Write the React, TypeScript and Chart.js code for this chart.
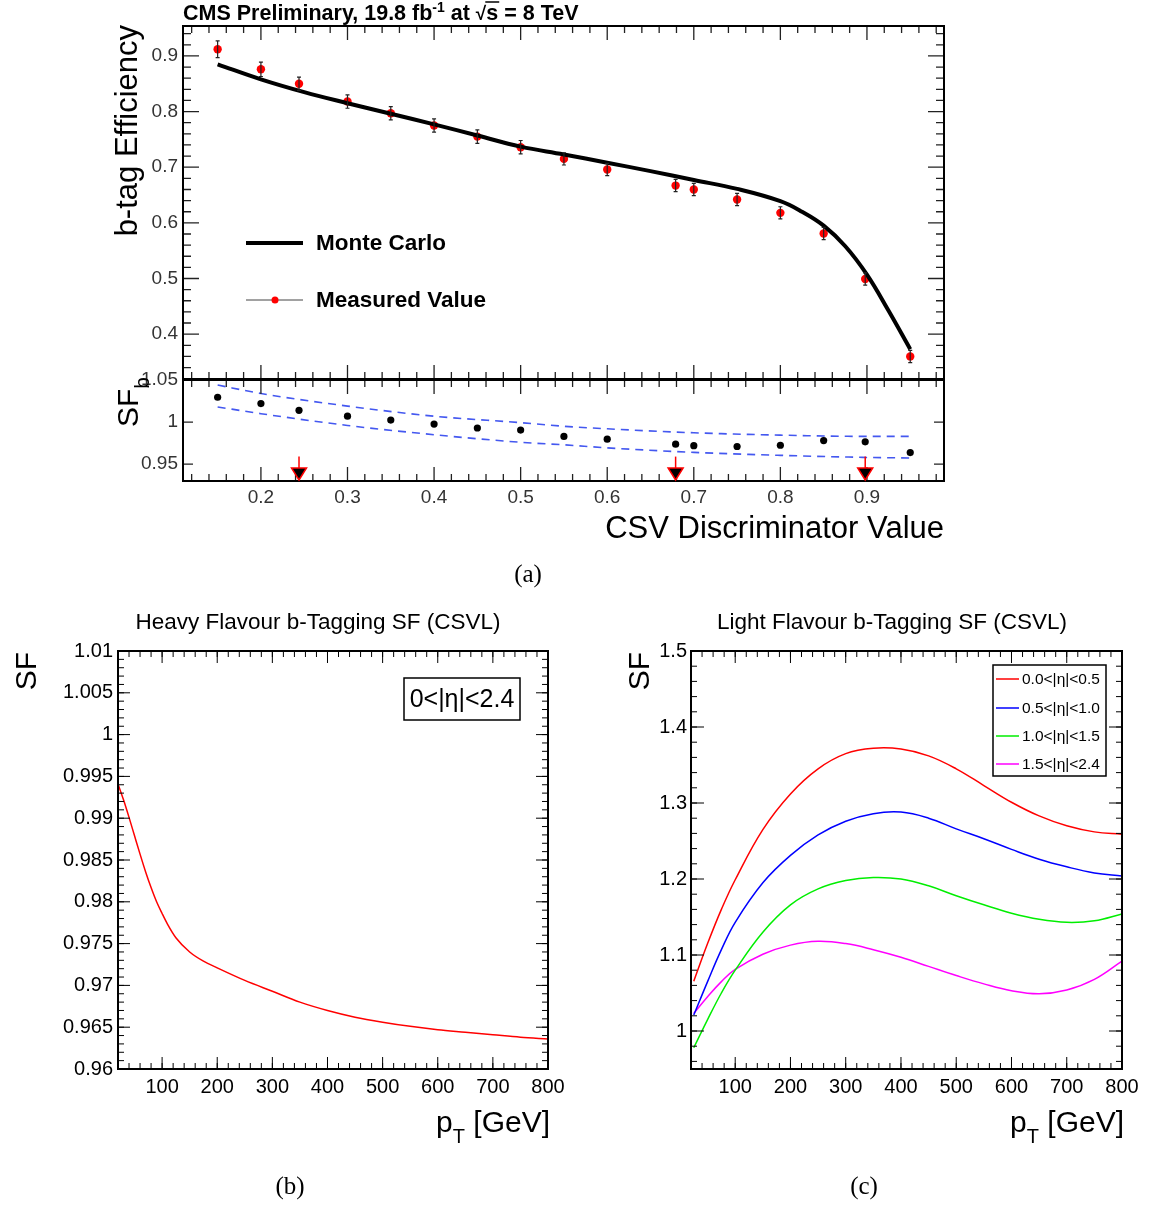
import React, { useEffect, useRef } from "react";
import { Chart, registerables } from "chart.js";

Chart.register(...registerables);

const SANS = "'Liberation Sans', Arial, Helvetica, sans-serif";

// ---------------- Panel (a): b-tag efficiency vs CSV discriminator ----------------
const CSV_X = [0.15, 0.2, 0.244, 0.3, 0.35, 0.4, 0.45, 0.5, 0.55, 0.6, 0.679, 0.7, 0.75, 0.8, 0.85, 0.898, 0.95];
const EFF_MEASURED = [0.912, 0.876, 0.85, 0.818, 0.797, 0.775, 0.755, 0.736, 0.715, 0.696, 0.667, 0.66, 0.642, 0.618, 0.581, 0.499, 0.36];
const EFF_ERR = [0.015, 0.013, 0.012, 0.012, 0.012, 0.012, 0.012, 0.012, 0.011, 0.011, 0.011, 0.011, 0.011, 0.011, 0.011, 0.011, 0.011];
const MC_X = [0.15, 0.2, 0.25, 0.3, 0.35, 0.4, 0.45, 0.5, 0.55, 0.6, 0.65, 0.7, 0.75, 0.8, 0.825, 0.85, 0.875, 0.9, 0.925, 0.95];
const MC_EFF = [0.885, 0.858, 0.835, 0.815, 0.796, 0.777, 0.757, 0.737, 0.723, 0.708, 0.693, 0.677, 0.661, 0.639, 0.62, 0.595, 0.558, 0.507, 0.442, 0.373];
const SF_B = [1.0295, 1.022, 1.014, 1.007, 1.0024, 0.9976, 0.993, 0.9905, 0.983, 0.9797, 0.9737, 0.972, 0.971, 0.9725, 0.978, 0.9766, 0.9638];
const BAND_X = [0.15, 0.2, 0.3, 0.4, 0.5, 0.55, 0.6, 0.7, 0.8, 0.9, 0.95];
const BAND_UP = [1.044, 1.034, 1.019, 1.007, 0.9993, 0.995, 0.992, 0.9873, 0.9845, 0.983, 0.983];
const BAND_LO = [1.018, 1.01, 0.996, 0.985, 0.976, 0.973, 0.9694, 0.964, 0.9605, 0.958, 0.9574];
const WP_X = [0.244, 0.679, 0.898];
const WP_ARROW_TOP = 0.959;
const WP_TRI_TOP = 0.9455;

const A_X_TICKS = [0.2, 0.3, 0.4, 0.5, 0.6, 0.7, 0.8, 0.9];
const A_X_LABELS = ["0.2", "0.3", "0.4", "0.5", "0.6", "0.7", "0.8", "0.9"];
const A_Y_TICKS = [0.4, 0.5, 0.6, 0.7, 0.8, 0.9];
const A_Y_LABELS = ["0.4", "0.5", "0.6", "0.7", "0.8", "0.9"];
const R_Y_TICKS = [0.95, 1.0, 1.05];
const R_Y_LABELS = ["0.95", "1", "1.05"];

// ---------------- Panel (b): heavy flavour SF vs pT ----------------
const PT_B = [20, 30, 40, 50, 60, 70, 80, 90, 100, 110, 125, 150, 175, 200, 250, 300, 350, 400, 450, 500, 550, 600, 650, 700, 750, 800];
const SF_HEAVY = [0.9941, 0.9922, 0.9901, 0.9879, 0.9857, 0.9836, 0.9817, 0.98, 0.9786, 0.9773, 0.9757, 0.974, 0.9729, 0.9721, 0.9706, 0.9693, 0.968, 0.967, 0.9662, 0.9656, 0.9651, 0.9647, 0.9644, 0.9641, 0.9638, 0.9636];

// ---------------- Panel (c): light flavour SF vs pT ----------------
const PT_C = [25, 50, 75, 100, 150, 200, 250, 300, 350, 400, 450, 500, 550, 600, 650, 700, 750, 800];
const SF_ETA_00_05 = [1.0655, 1.115, 1.16, 1.199, 1.265, 1.312, 1.345, 1.365, 1.372, 1.371, 1.362, 1.345, 1.323, 1.301, 1.283, 1.27, 1.262, 1.259];
const SF_ETA_05_10 = [1.021, 1.065, 1.107, 1.143, 1.195, 1.231, 1.258, 1.276, 1.286, 1.288, 1.28, 1.266, 1.253, 1.239, 1.226, 1.216, 1.208, 1.204];
const SF_ETA_10_15 = [0.978, 1.015, 1.05, 1.08, 1.13, 1.166, 1.187, 1.198, 1.202, 1.2, 1.191, 1.178, 1.166, 1.155, 1.147, 1.143, 1.145, 1.154];
const SF_ETA_15_24 = [1.023, 1.045, 1.065, 1.081, 1.101, 1.113, 1.118, 1.115, 1.107, 1.097, 1.085, 1.073, 1.062, 1.053, 1.049, 1.054, 1.068, 1.092];
const C_SERIES_LABELS = ["0.0<|η|<0.5", "0.5<|η|<1.0", "1.0<|η|<1.5", "1.5<|η|<2.4"];
const C_SERIES_COLORS = ["#ff0000", "#0000ff", "#00ee00", "#ff00ff"];

const PT_TICKS = [100, 200, 300, 400, 500, 600, 700, 800];
const PT_LABELS = ["100", "200", "300", "400", "500", "600", "700", "800"];
const B_Y_TICKS = [0.96, 0.965, 0.97, 0.975, 0.98, 0.985, 0.99, 0.995, 1.0, 1.005, 1.01];
const B_Y_LABELS = ["0.96", "0.965", "0.97", "0.975", "0.98", "0.985", "0.99", "0.995", "1", "1.005", "1.01"];
const C_Y_TICKS = [1.0, 1.1, 1.2, 1.3, 1.4, 1.5];
const C_Y_LABELS = ["1", "1.1", "1.2", "1.3", "1.4", "1.5"];

// ---------------- helpers ----------------
function steps(from: number, to: number, step: number): number[] {
  const out: number[] = [];
  const n = Math.round((to - from) / step);
  for (let i = 0; i <= n; i++) out.push(+(from + i * step).toFixed(6));
  return out;
}
const pts = (xs: number[], ys: number[]) => xs.map((x, i) => ({ x, y: ys[i] }));

type Seg = { t: string; font: string; dy?: number; overline?: boolean };
function drawRich(ctx: CanvasRenderingContext2D, segs: Seg[], x: number, y: number, align: "left" | "right" | "center", color = "#000") {
  let total = 0;
  for (const s of segs) {
    ctx.font = s.font;
    total += ctx.measureText(s.t).width;
  }
  let cx = align === "left" ? x : align === "right" ? x - total : x - total / 2;
  ctx.fillStyle = color;
  ctx.strokeStyle = color;
  ctx.textAlign = "left";
  ctx.textBaseline = "alphabetic";
  for (const s of segs) {
    ctx.font = s.font;
    const w = ctx.measureText(s.t).width;
    ctx.fillText(s.t, cx, y + (s.dy || 0));
    if (s.overline) {
      ctx.lineWidth = 1.5;
      ctx.beginPath();
      ctx.moveTo(cx - 1, y + (s.dy || 0) - 18);
      ctx.lineTo(cx + w + 1, y + (s.dy || 0) - 18);
      ctx.stroke();
    }
    cx += w;
  }
}

type Frame = {
  xMajor: number[]; xMinor: number[]; yMajor: number[]; yMinor: number[];
  xMajLen: number; xMinLen: number; yMajLen: number; yMinLen: number;
  tickColor: string; tickWidth: number; frameWidth: number;
};

function framePlugin(f: Frame, extra?: (chart: any) => void) {
  return {
    id: "rootFrame",
    afterDatasetsDraw(chart: any) {
      const { ctx, chartArea: ca, scales } = chart;
      const xs = scales.x, ys = scales.y;
      ctx.save();
      ctx.strokeStyle = f.tickColor;
      ctx.lineWidth = f.tickWidth;
      ctx.beginPath();
      const xMarks = (vals: number[], len: number) => {
        for (const v of vals) {
          const p = xs.getPixelForValue(v);
          if (p < ca.left + 1 || p > ca.right - 1) continue;
          ctx.moveTo(p, ca.bottom); ctx.lineTo(p, ca.bottom - len);
          ctx.moveTo(p, ca.top); ctx.lineTo(p, ca.top + len);
        }
      };
      const yMarks = (vals: number[], len: number) => {
        for (const v of vals) {
          const p = ys.getPixelForValue(v);
          if (p < ca.top + 1 || p > ca.bottom - 1) continue;
          ctx.moveTo(ca.left, p); ctx.lineTo(ca.left + len, p);
          ctx.moveTo(ca.right, p); ctx.lineTo(ca.right - len, p);
        }
      };
      xMarks(f.xMajor, f.xMajLen);
      xMarks(f.xMinor, f.xMinLen);
      yMarks(f.yMajor, f.yMajLen);
      yMarks(f.yMinor, f.yMinLen);
      ctx.stroke();
      ctx.lineWidth = f.frameWidth;
      ctx.strokeStyle = "#000";
      ctx.strokeRect(ca.left, ca.top, ca.right - ca.left, ca.bottom - ca.top);
      ctx.restore();
      if (extra) {
        ctx.save();
        extra(chart);
        ctx.restore();
      }
    },
  };
}

function xAxis(min: number, max: number, ticks: number[], labels: string[], height: number, size: number, color: string, pad: number, display = true) {
  return {
    type: "linear", min, max, display,
    grid: { display: false, drawTicks: false },
    border: { display: false },
    ticks: {
      font: { family: SANS, size }, color, padding: pad, autoSkip: false, maxRotation: 0, minRotation: 0,
      callback: (_v: any, i: number) => labels[i],
    },
    afterBuildTicks: (s: any) => { s.ticks = ticks.map((v) => ({ value: v })); },
    afterFit: (s: any) => { s.height = height; s.paddingLeft = 0; s.paddingRight = 0; },
  };
}
function yAxis(min: number, max: number, ticks: number[], labels: string[], width: number, size: number, color: string, pad: number) {
  return {
    type: "linear", min, max,
    grid: { display: false, drawTicks: false },
    border: { display: false },
    ticks: {
      font: { family: SANS, size }, color, padding: pad, autoSkip: false,
      callback: (_v: any, i: number) => labels[i],
    },
    afterBuildTicks: (s: any) => { s.ticks = ticks.map((v) => ({ value: v })); },
    afterFit: (s: any) => { s.width = width; s.paddingTop = 0; s.paddingBottom = 0; },
  };
}

const common = {
  responsive: false,
  animation: false,
  devicePixelRatio: 1,
  events: [],
  plugins: { legend: { display: false }, tooltip: { enabled: false }, title: { display: false } },
};

// ---------------- chart configs ----------------
function cfgTop(): any {
  const errorBars = {
    id: "errBars",
    afterDatasetDraw(chart: any, args: any) {
      if (args.index !== 0) return;
      const { ctx, scales: { x, y } } = chart;
      ctx.save();
      ctx.strokeStyle = "#222";
      ctx.lineWidth = 1.2;
      ctx.beginPath();
      CSV_X.forEach((cx, i) => {
        const px = x.getPixelForValue(cx);
        const y1 = y.getPixelForValue(EFF_MEASURED[i] - EFF_ERR[i]);
        const y2 = y.getPixelForValue(EFF_MEASURED[i] + EFF_ERR[i]);
        ctx.moveTo(px, y1); ctx.lineTo(px, y2);
        ctx.moveTo(px - 2, y1); ctx.lineTo(px + 2, y1);
        ctx.moveTo(px - 2, y2); ctx.lineTo(px + 2, y2);
      });
      ctx.stroke();
      ctx.restore();
    },
  };
  const extra = (chart: any) => {
    const { ctx, chartArea: ca } = chart;
    // title
    drawRich(ctx, [
      { t: "CMS Preliminary, 19.8 fb", font: `bold 21.5px ${SANS}` },
      { t: "-1", font: `bold 14px ${SANS}`, dy: -8 },
      { t: " at ", font: `bold 21.5px ${SANS}` },
      { t: "√", font: `bold 19px ${SANS}` },
      { t: "s", font: `bold 21.5px ${SANS}`, overline: true },
      { t: " = 8 TeV", font: `bold 21.5px ${SANS}` },
    ], ca.left, 20, "left");
    // y title
    ctx.save();
    ctx.translate(137, ca.top - 1);
    ctx.rotate(-Math.PI / 2);
    ctx.font = `31px ${SANS}`;
    ctx.fillStyle = "#000";
    ctx.textAlign = "right";
    ctx.textBaseline = "alphabetic";
    ctx.fillText("b-tag Efficiency", 0, 0);
    ctx.restore();
    // legend
    ctx.strokeStyle = "#000";
    ctx.lineWidth = 4;
    ctx.beginPath();
    ctx.moveTo(246, 243); ctx.lineTo(303, 243);
    ctx.stroke();
    ctx.strokeStyle = "#444";
    ctx.lineWidth = 1;
    ctx.beginPath();
    ctx.moveTo(246, 300); ctx.lineTo(303, 300);
    ctx.stroke();
    ctx.fillStyle = "#ff0000";
    ctx.beginPath();
    ctx.arc(275, 300, 3.5, 0, Math.PI * 2);
    ctx.fill();
    ctx.fillStyle = "#000";
    ctx.font = `bold 22.5px ${SANS}`;
    ctx.textAlign = "left";
    ctx.textBaseline = "middle";
    ctx.fillText("Monte Carlo", 316, 244);
    ctx.fillText("Measured Value", 316, 301);
  };
  return {
    type: "line",
    data: {
      datasets: [
        { data: pts(MC_X, MC_EFF), borderColor: "#000", borderWidth: 4, pointRadius: 0, tension: 0.4, fill: false },
        { data: pts(CSV_X, EFF_MEASURED), showLine: false, pointRadius: 4.2, pointBackgroundColor: "#ff0000", pointBorderColor: "#ff0000", pointBorderWidth: 0 },
      ],
    },
    options: {
      ...common,
      layout: { padding: { top: 26, right: 36, bottom: 10, left: 0 } },
      scales: {
        x: xAxis(0.11, 0.989, A_X_TICKS, A_X_LABELS, 1, 19, "#333", 4, false),
        y: yAxis(0.3194, 0.9538, A_Y_TICKS, A_Y_LABELS, 183, 19, "#333", 5),
      },
    },
    plugins: [
      errorBars,
      framePlugin({
        xMajor: A_X_TICKS, xMinor: steps(0.12, 0.98, 0.02), yMajor: A_Y_TICKS, yMinor: steps(0.32, 0.94, 0.02),
        xMajLen: 14, xMinLen: 7, yMajLen: 16, yMinLen: 8, tickColor: "#222", tickWidth: 1.3, frameWidth: 2,
      }, extra),
    ],
  };
}

function cfgRatio(): any {
  const extra = (chart: any) => {
    const { ctx, chartArea: ca, scales: { x, y } } = chart;
    // working-point arrows
    WP_X.forEach((wx) => {
      const px = x.getPixelForValue(wx);
      const yTop = y.getPixelForValue(WP_ARROW_TOP);
      const yTri = y.getPixelForValue(WP_TRI_TOP);
      ctx.strokeStyle = "#ff0000";
      ctx.lineWidth = 1.5;
      ctx.beginPath();
      ctx.moveTo(px, yTop); ctx.lineTo(px, yTri);
      ctx.stroke();
      ctx.beginPath();
      ctx.moveTo(px - 7.5, yTri); ctx.lineTo(px + 7.5, yTri); ctx.lineTo(px, ca.bottom - 1); ctx.closePath();
      ctx.fillStyle = "#000";
      ctx.fill();
      ctx.stroke();
    });
    // y title SF_b
    ctx.save();
    ctx.translate(138, 427 - 360);
    ctx.rotate(-Math.PI / 2);
    drawRich(ctx, [
      { t: "SF", font: `30px ${SANS}` },
      { t: "b", font: `21px ${SANS}`, dy: 11 },
    ], 0, 0, "left");
    ctx.restore();
    // x title
    ctx.fillStyle = "#000";
    ctx.font = `31px ${SANS}`;
    ctx.textAlign = "right";
    ctx.textBaseline = "alphabetic";
    ctx.fillText("CSV Discriminator Value", ca.right, 538 - 360);
  };
  return {
    type: "line",
    data: {
      datasets: [
        { data: pts(BAND_X, BAND_UP), borderColor: "#4458f0", borderWidth: 1.6, borderDash: [8, 6], pointRadius: 0, cubicInterpolationMode: "monotone", fill: false },
        { data: pts(BAND_X, BAND_LO), borderColor: "#4458f0", borderWidth: 1.6, borderDash: [8, 6], pointRadius: 0, cubicInterpolationMode: "monotone", fill: false },
        { data: pts(CSV_X, SF_B), showLine: false, pointRadius: 3.6, pointBackgroundColor: "#000", pointBorderColor: "#000", pointBorderWidth: 0 },
      ],
    },
    options: {
      ...common,
      layout: { padding: { top: 20, right: 36, bottom: 0, left: 0 } },
      scales: {
        x: xAxis(0.11, 0.989, A_X_TICKS, A_X_LABELS, 119, 19, "#333", 5),
        y: yAxis(0.93, 1.05, R_Y_TICKS, R_Y_LABELS, 183, 19, "#333", 5),
      },
    },
    plugins: [
      framePlugin({
        xMajor: A_X_TICKS, xMinor: steps(0.12, 0.98, 0.02), yMajor: R_Y_TICKS, yMinor: [],
        xMajLen: 14, xMinLen: 7, yMajLen: 10, yMinLen: 5, tickColor: "#222", tickWidth: 1.3, frameWidth: 2,
      }, extra),
    ],
  };
}

function ptTitles(ctx: CanvasRenderingContext2D, ca: any, title: string, titleX: number, sfX: number) {
  ctx.fillStyle = "#000";
  ctx.font = `22.5px ${SANS}`;
  ctx.textAlign = "center";
  ctx.textBaseline = "alphabetic";
  ctx.fillText(title, titleX, 29);
  ctx.save();
  ctx.translate(sfX, ca.top + 1);
  ctx.rotate(-Math.PI / 2);
  ctx.font = `30px ${SANS}`;
  ctx.textAlign = "right";
  ctx.fillText("SF", 0, 0);
  ctx.restore();
  drawRich(ctx, [
    { t: "p", font: `30px ${SANS}` },
    { t: "T", font: `20px ${SANS}`, dy: 11 },
    { t: " [GeV]", font: `30px ${SANS}` },
  ], ca.right + 2, 532, "right");
}

function cfgHeavy(): any {
  const extra = (chart: any) => {
    const { ctx, chartArea: ca } = chart;
    ptTitles(ctx, ca, "Heavy Flavour b-Tagging SF (CSVL)", 318, 36);
    ctx.strokeStyle = "#000";
    ctx.lineWidth = 1.5;
    ctx.strokeRect(404, 78, 116, 42);
    ctx.fillStyle = "#000";
    ctx.font = `25px ${SANS}`;
    ctx.textAlign = "center";
    ctx.textBaseline = "alphabetic";
    ctx.fillText("0<|η|<2.4", 462, 107);
  };
  return {
    type: "line",
    data: {
      datasets: [
        { data: pts(PT_B, SF_HEAVY), borderColor: "#ff0000", borderWidth: 1.5, pointRadius: 0, cubicInterpolationMode: "monotone", fill: false },
      ],
    },
    options: {
      ...common,
      layout: { padding: { top: 51, right: 27, bottom: 0, left: 0 } },
      scales: {
        x: xAxis(20, 800, PT_TICKS, PT_LABELS, 138, 20, "#000", 6),
        y: yAxis(0.96, 1.01, B_Y_TICKS, B_Y_LABELS, 118, 20, "#000", 5),
      },
    },
    plugins: [
      framePlugin({
        xMajor: PT_TICKS, xMinor: steps(20, 800, 20), yMajor: B_Y_TICKS, yMinor: steps(0.96, 1.01, 0.001),
        xMajLen: 12, xMinLen: 6, yMajLen: 12, yMinLen: 6, tickColor: "#000", tickWidth: 1, frameWidth: 2,
      }, extra),
    ],
  };
}

function cfgLight(): any {
  const series = [SF_ETA_00_05, SF_ETA_05_10, SF_ETA_10_15, SF_ETA_15_24];
  const extra = (chart: any) => {
    const { ctx, chartArea: ca } = chart;
    ptTitles(ctx, ca, "Light Flavour b-Tagging SF (CSVL)", 892 - 575, 649 - 575);
    const bx = 993 - 575, by = 665 - 600, bw = 113, bh = 111;
    ctx.strokeStyle = "#000";
    ctx.lineWidth = 1.5;
    ctx.strokeRect(bx, by, bw, bh);
    const rows = [679, 708, 736, 764];
    C_SERIES_LABELS.forEach((lab, i) => {
      const ry = rows[i] - 600;
      ctx.strokeStyle = C_SERIES_COLORS[i];
      ctx.lineWidth = 1.5;
      ctx.beginPath();
      ctx.moveTo(bx + 3, ry); ctx.lineTo(bx + 26, ry);
      ctx.stroke();
      ctx.fillStyle = "#000";
      ctx.font = `15.5px ${SANS}`;
      ctx.textAlign = "left";
      ctx.textBaseline = "middle";
      ctx.fillText(lab, bx + 29, ry + 1);
    });
  };
  return {
    type: "line",
    data: {
      datasets: series.map((s, i) => ({
        label: C_SERIES_LABELS[i],
        data: pts(PT_C, s),
        borderColor: C_SERIES_COLORS[i],
        borderWidth: 1.5,
        pointRadius: 0,
        tension: 0.4,
        fill: false,
      })),
    },
    options: {
      ...common,
      layout: { padding: { top: 51, right: 27, bottom: 0, left: 0 } },
      scales: {
        x: xAxis(20, 800, PT_TICKS, PT_LABELS, 138, 20, "#000", 6),
        y: yAxis(0.95, 1.5, C_Y_TICKS, C_Y_LABELS, 116, 20, "#000", 4),
      },
    },
    plugins: [
      framePlugin({
        xMajor: PT_TICKS, xMinor: steps(20, 800, 20), yMajor: C_Y_TICKS, yMinor: steps(0.96, 1.5, 0.02),
        xMajLen: 12, xMinLen: 6, yMajLen: 13, yMinLen: 6, tickColor: "#000", tickWidth: 1, frameWidth: 2,
      }, extra),
    ],
  };
}

const caption = (cx: number, cy: number): React.CSSProperties => ({
  position: "absolute",
  left: cx - 50,
  top: cy - 15,
  width: 100,
  height: 30,
  lineHeight: "30px",
  textAlign: "center",
  fontFamily: "'Liberation Serif', 'DejaVu Serif', serif",
  fontSize: 25,
  color: "#000",
});

export default function App() {
  const aTop = useRef<HTMLCanvasElement>(null);
  const aRatio = useRef<HTMLCanvasElement>(null);
  const bRef = useRef<HTMLCanvasElement>(null);
  const cRef = useRef<HTMLCanvasElement>(null);

  useEffect(() => {
    const charts = [
      new Chart(aTop.current as HTMLCanvasElement, cfgTop()),
      new Chart(aRatio.current as HTMLCanvasElement, cfgRatio()),
      new Chart(bRef.current as HTMLCanvasElement, cfgHeavy()),
      new Chart(cRef.current as HTMLCanvasElement, cfgLight()),
    ];
    return () => charts.forEach((c) => c.destroy());
  }, []);

  return (
    <div style={{ position: "absolute", left: 0, top: 0, width: 1149, height: 1207, background: "#fff", overflow: "hidden" }}>
      <canvas ref={aTop} width={980} height={390} style={{ position: "absolute", left: 0, top: 0 }} />
      <canvas ref={aRatio} width={980} height={240} style={{ position: "absolute", left: 0, top: 360 }} />
      <canvas ref={bRef} width={575} height={607} style={{ position: "absolute", left: 0, top: 600 }} />
      <canvas ref={cRef} width={574} height={607} style={{ position: "absolute", left: 575, top: 600 }} />
      <div style={caption(528, 574)}>(a)</div>
      <div style={caption(290, 1186)}>(b)</div>
      <div style={caption(864, 1186)}>(c)</div>
    </div>
  );
}
